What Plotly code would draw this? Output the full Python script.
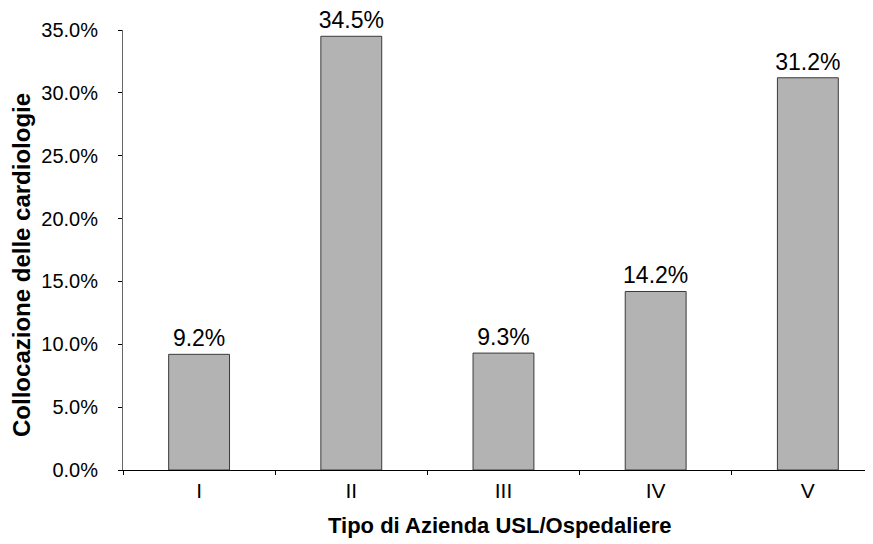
import plotly.graph_objects as go

categories = ["I", "II", "III", "IV", "V"]
values = [9.2, 34.5, 9.3, 14.2, 31.2]
value_labels = ["9.2%", "34.5%", "9.3%", "14.2%", "31.2%"]
y_ticks = [0, 5, 10, 15, 20, 25, 30, 35]
y_tick_labels = ["0.0%", "5.0%", "10.0%", "15.0%", "20.0%", "25.0%", "30.0%", "35.0%"]
x_title = "Tipo di Azienda USL/Ospedaliere"
y_title = "Collocazione delle cardiologie"

font_family = "Liberation Sans, Arial, sans-serif"

fig = go.Figure()
fig.add_trace(go.Bar(
    x=categories,
    y=values,
    text=value_labels,
    textposition="outside",
    constraintext="none",
    textfont=dict(family=font_family, size=23, color="black"),
    cliponaxis=False,
    marker=dict(color="#b3b3b3", line=dict(color="#3a3a3a", width=1)),
    width=0.4,
))

fig.add_annotation(
    text="<b>" + x_title + "</b>",
    xref="paper", yref="paper", x=0.503, y=0,
    xanchor="center", yanchor="middle", yshift=-55,
    showarrow=False,
    font=dict(size=22, family=font_family, color="black"),
)
fig.add_annotation(
    text="<b>" + y_title + "</b>",
    xref="paper", yref="paper", x=0, y=0.466,
    xanchor="center", yanchor="middle", xshift=-101,
    textangle=-90,
    showarrow=False,
    font=dict(size=24, family=font_family, color="black"),
)

fig.update_layout(
    width=865,
    height=536,
    margin=dict(l=115, r=0, t=22, b=74, pad=0),
    paper_bgcolor="white",
    plot_bgcolor="white",
    showlegend=False,
    font=dict(family=font_family, color="black"),
    xaxis=dict(
        type="category",
        range=[-0.5, 4.428],
        tickson="boundaries",
        ticks="outside",
        ticklen=4,
        tickcolor="black",
        showline=True,
        linecolor="black",
        linewidth=1,
        showgrid=False,
        ticklabelstandoff=2,
        tickfont=dict(size=21, family=font_family),
    ),
    yaxis=dict(
        range=[0, 35],
        tickvals=y_ticks,
        ticktext=y_tick_labels,
        ticks="outside",
        ticklen=4,
        tickcolor="black",
        showline=True,
        linecolor="#666666",
        linewidth=1,
        showgrid=False,
        zeroline=False,
        ticklabelstandoff=16,
        tickfont=dict(size=20, family=font_family),
    ),
)

fig.write_html("out.html")
